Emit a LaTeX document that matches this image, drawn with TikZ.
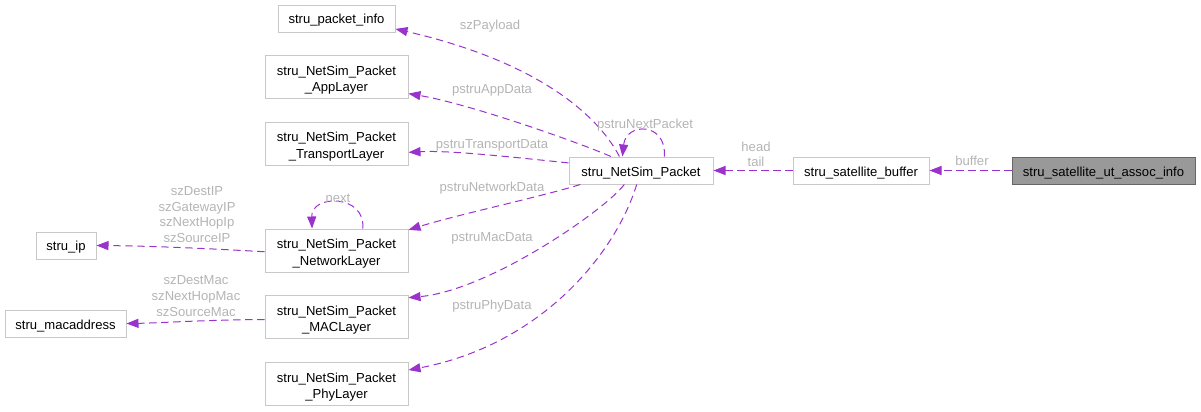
\documentclass[tikz,border=0pt]{standalone}
\usepackage{fontspec}
\setmainfont{Liberation Sans}
\usetikzlibrary{arrows.meta}
\definecolor{edgec}{HTML}{9A32CD}
\definecolor{boxc}{HTML}{C8C8C8}
\definecolor{labc}{HTML}{B4B4B4}
\definecolor{selc}{HTML}{999999}
\newcommand\myup{\rule{0pt}{11.8pt}}
\begin{document}
\begin{tikzpicture}[x=0.75pt,y=-0.75pt,
  box/.style={draw=boxc, line width=0.75pt, fill=white, inner sep=0pt, align=center,
    font=\fontsize{9.8}{12.4}\selectfont},
  onebox/.style={box, minimum height=20.25pt, execute at begin node={\rule{0pt}{10.2pt}}},
  twobox/.style={box, minimum width=107.25pt, minimum height=32.25pt},
  selbox/.style={draw=black!60, fill=selc},
  lab/.style={text=labc, inner sep=0pt, align=center, font=\fontsize{9.8}{11.6}\selectfont},
  rel/.style={draw=edgec, line width=0.75pt, dash pattern=on 5.5pt off 3.5pt,
    -{Triangle[length=9pt,width=6.8pt]}}]
\useasboundingbox (0,0) rectangle (1201,411);

% nodes
\node[onebox, minimum width=87.75pt] (pinfo) at (336.5,18.5) {stru\_packet\_info};
\node[twobox] (app) at (336.5,77) {\myup stru\_NetSim\_Packet\\\_AppLayer};
\node[twobox] (trans) at (336.5,143.5) {\myup stru\_NetSim\_Packet\\\_TransportLayer};
\node[twobox] (net) at (336.5,250.5) {\myup stru\_NetSim\_Packet\\\_NetworkLayer};
\node[twobox] (mac) at (336.5,317) {\myup stru\_NetSim\_Packet\\\_MACLayer};
\node[twobox] (phy) at (336.5,384) {\myup stru\_NetSim\_Packet\\\_PhyLayer};
\node[onebox, minimum width=45pt] (ip) at (66,245.5) {stru\_ip};
\node[onebox, minimum width=90.75pt] (maddr) at (65.5,323.5) {stru\_macaddress};
\node[onebox, minimum width=108pt] (pk) at (641,170.5) {stru\_NetSim\_Packet};
\node[onebox, minimum width=102pt] (buf) at (861,170.5) {stru\_satellite\_buffer};
\node[onebox, selbox, minimum width=137.25pt] (ut) at (1103.5,170.5) {stru\_satellite\_ut\_assoc\_info};

% connectors
\draw[rel] (pk.147) .. controls (595,110) and (530,60) .. (pinfo.350.8);
\draw[rel] (pk.155) .. controls (580,143) and (470,104) .. (app.347.4);
\draw[rel] (pk.174.8) .. controls (520,158) and (450,150) .. (trans.353.2);
\draw[rel] (pk.193.5) .. controls (540,197) and (460,214) .. (net.16);
\draw[rel] (pk.220.2) .. controls (605,210) and (490,290) .. (mac.15.6);
\draw[rel] (pk.253.5) .. controls (615,255) and (540,345) .. (phy.11.1);
\draw[rel] (pk.31.5) .. controls (667,122) and (626,122) .. (pk.143.1);
\draw[rel] (buf.west) -- (pk.east);
\draw[rel] (ut.west) -- (buf.east);
\draw[rel] (net.40.1) .. controls (366,194) and (311,194) .. (net.138.7);
\draw[rel] (net.181.2) .. controls (200,248) and (150,246) .. (ip.east);
\draw[rel] (mac.182) .. controls (200,320) and (160,323) .. (maddr.east);

% labels
\node[lab] (l1) at (490,26) {szPayload};
\node[lab] (l2) at (492,90) {pstruAppData};
\node[lab] (l3) at (492,145) {pstruTransportData};
\node[lab] (l4) at (492,188) {pstruNetworkData};
\node[lab] (l5) at (492,238) {pstruMacData};
\node[lab] (l6) at (492,306) {pstruPhyData};
\node[lab] (l7) at (645,125) {pstruNextPacket};
\node[lab] (l8) at (756,154.5) {head\\tail};
\node[lab] (l9) at (972,161) {buffer};
\node[lab] (l10) at (338,198) {next};
\node[lab, font=\fontsize{9.8}{11.6}\selectfont] (l11) at (197,214.5) {szDestIP\\szGatewayIP\\szNextHopIp\\szSourceIP};
\node[lab, font=\fontsize{9.8}{12}\selectfont] (l12) at (196,296) {szDestMac\\szNextHopMac\\szSourceMac};
\end{tikzpicture}
\end{document}
